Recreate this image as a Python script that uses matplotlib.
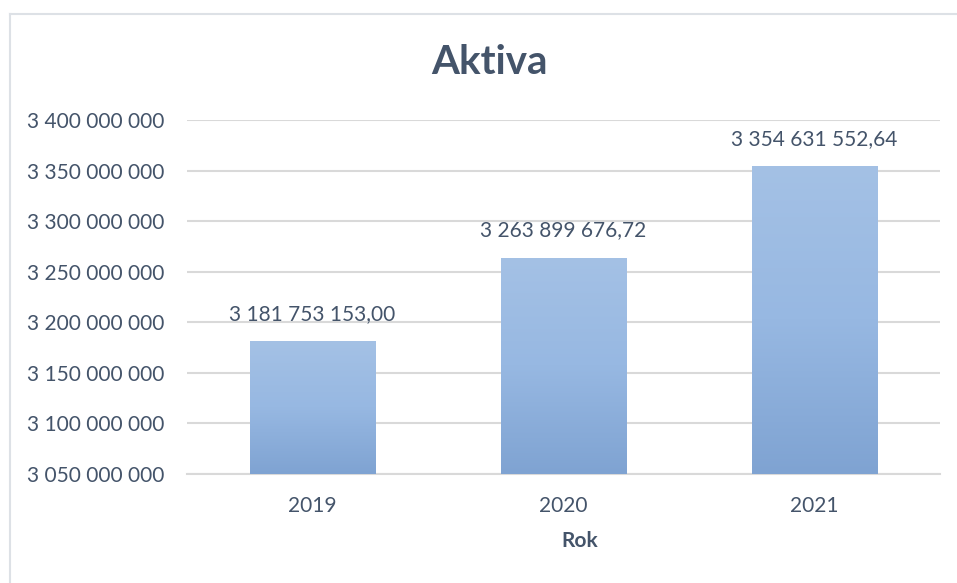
import matplotlib
matplotlib.use("Agg")
import matplotlib.pyplot as plt
import numpy as np
from matplotlib.lines import Line2D
from matplotlib.colors import LinearSegmentedColormap

plt.rcParams['font.family'] = ['Lato', 'DejaVu Sans']

years = ["2019", "2020", "2021"]
values = [3181753153.00, 3263899676.72, 3354631552.64]
yticks = [3050000000, 3100000000, 3150000000, 3200000000, 3250000000,
          3300000000, 3350000000, 3400000000]
title = "Aktiva"
xlabel = "Rok"

TEXT = "#44546A"
GRID = "#D9D9D9"
W, H = 957, 583
fig = plt.figure(figsize=(W / 100, H / 100), dpi=100)
fig.patch.set_facecolor("white")

# chart border (top and left visible)
fig.add_artist(Line2D([10 / W, 1], [1 - 14 / H, 1 - 14 / H], color="#DDE1E6", lw=1.5))
fig.add_artist(Line2D([10 / W, 10 / W], [0, 1 - 14 / H], color="#DDE1E6", lw=1.5))

ax = fig.add_axes([187 / W, (H - 474) / H, (940 - 187) / W, (474 - 120) / H])

x = np.arange(len(years))
bw = 0.5
bars = ax.bar(x, values, width=bw, color="none", zorder=3)
grad = np.linspace(0, 1, 256).reshape(-1, 1)
cmap = LinearSegmentedColormap.from_list("g", ["#7FA3D2", "#97B8E2", "#A4C1E5"])
for b, v in zip(bars, values):
    im = ax.imshow(grad, cmap=cmap, origin="lower", aspect="auto",
                   extent=[b.get_x(), b.get_x() + b.get_width(), yticks[0], v], zorder=3)
    im.set_clip_path(b)
    label = f"{v:,.2f}".replace(",", " ").replace(".", ",")
    ax.annotate(label, (b.get_x() + b.get_width() / 2, v), xytext=(0, 19.5),
                textcoords="offset points", ha="center", va="center",
                fontsize=15, color=TEXT, zorder=4)
ax.set_xlim(-0.5, len(years) - 0.5)
ax.set_ylim(yticks[0], yticks[-1])

ax.set_yticks(yticks)
ax.set_yticklabels([f"{t:,.0f}".replace(",", " ") for t in yticks])
ax.set_xticks(x)
ax.set_xticklabels(years)
ax.tick_params(axis="y", length=0, pad=16, labelsize=15, labelcolor=TEXT)
ax.tick_params(axis="x", length=0, pad=16, labelsize=15, labelcolor=TEXT)
ax.grid(axis="y", color=GRID, lw=1.5, zorder=0)
ax.set_axisbelow(True)
for s in ["top", "right", "left"]:
    ax.spines[s].set_visible(False)
ax.spines["bottom"].set_color(GRID)
ax.spines["bottom"].set_linewidth(1.5)

fig.text(489 / W, 1 - 62 / H, title, ha="center", va="center",
         fontsize=29, fontweight="bold", color=TEXT)
fig.text(580 / W, 1 - 541 / H, xlabel, ha="center", va="center",
         fontsize=15, fontweight="bold", color=TEXT)

fig.savefig("out.png", dpi=100)
